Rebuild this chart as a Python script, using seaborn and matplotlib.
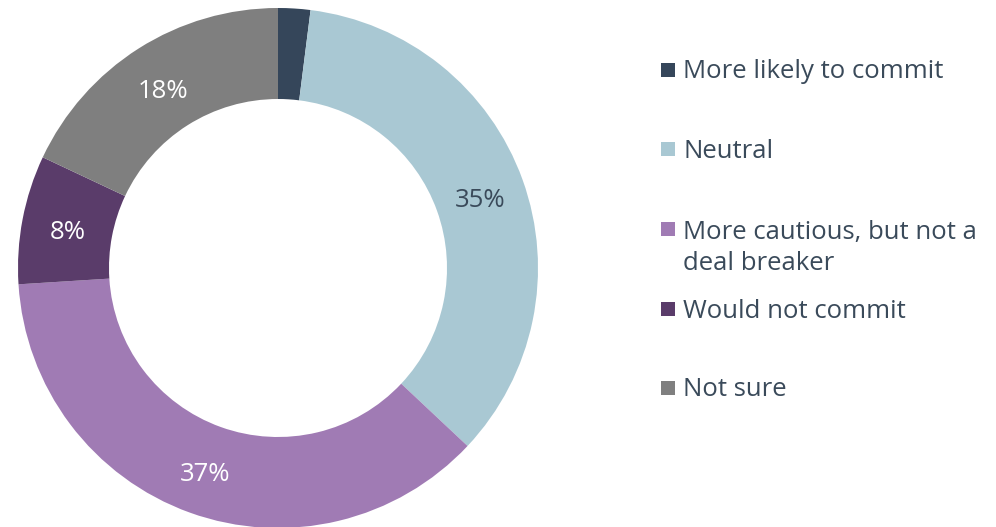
import matplotlib
matplotlib.use("Agg")
import matplotlib.pyplot as plt
from matplotlib.patches import Rectangle
from matplotlib.transforms import ScaledTranslation
import seaborn as sns

categories = [
    "More likely to commit",
    "Neutral",
    "More cautious, but not a\ndeal breaker",
    "Would not commit",
    "Not sure",
]
shares = [2, 35, 37, 8, 18]
colors = ["#35465a", "#a9c8d3", "#a07bb4", "#5a3c6a", "#7f7f7f"]
label_colors = ["white", "#3a4a5a", "white", "white", "white"]

sns.set_theme(style="white")
plt.rcParams["font.family"] = ["Open Sans", "DejaVu Sans"]

W, H = 996, 527
fig = plt.figure(figsize=(W / 100, H / 100), dpi=100)

# donut axes placed in pixel terms: centre (278, 268), outer radius 260
cx, cy, r = 278, 268, 260
ax = fig.add_axes([(cx - r) / W, (H - cy - r) / H, 2 * r / W, 2 * r / H])

ring = 0.35


def fmt(p):
    return f"{p:.0f}%" if p >= 5 else ""


wedges, _, autotexts = ax.pie(
    shares,
    colors=colors,
    startangle=90,
    counterclock=False,
    radius=1.0,
    wedgeprops=dict(width=ring, edgecolor="none", linewidth=0),
    autopct=fmt,
    pctdistance=1 - ring / 2,
    textprops=dict(color="white", fontsize=18.5),
)
nudge = ScaledTranslation(0, -5 / 100, fig.dpi_scale_trans)
for t, c in zip(autotexts, label_colors):
    t.set_color(c)
    t.set_transform(t.get_transform() + nudge)
ax.set_xlim(-1, 1)
ax.set_ylim(-1, 1)
ax.set_aspect("equal")
ax.axis("off")

# legend entries: square swatch plus label, first line aligned with the swatch
text_color = "#3a4a5a"
row_y = [70, 149, 229, 309, 388]
sq = 14
line_px = 32
for label, col, y in zip(categories, colors, row_y):
    fig.patches.append(
        Rectangle((661 / W, (H - y - sq / 2) / H), sq / W, sq / H,
                  transform=fig.transFigure, facecolor=col, edgecolor="none")
    )
    extra = label.count("\n") * line_px
    fig.text(683 / W, (H - y - 8.5 - extra) / H, label, ha="left", va="baseline",
             color=text_color, fontsize=18.5, linespacing=1.28)

fig.savefig("out.png", dpi=100)
